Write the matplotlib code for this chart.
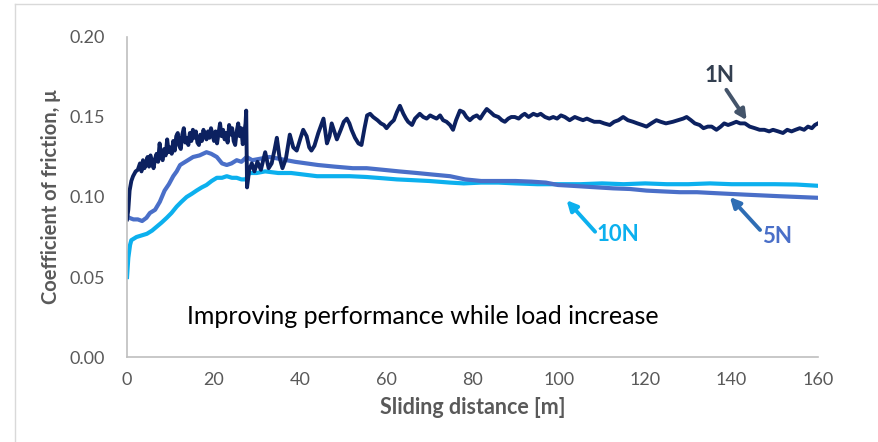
import matplotlib
matplotlib.use('Agg')
import matplotlib.pyplot as plt
from matplotlib.lines import Line2D

plt.rcParams['font.family'] = ['Lato', 'DejaVu Sans']

# --- data (sliding distance [m], friction coefficient) ---
dist_1n = [0, 0.3, 0.6, 1.0, 1.4, 2.0, 2.5,
           3.0, 3.35, 3.7, 4.05, 4.4, 4.75, 5.1, 5.45, 5.8, 6.15,
           6.5, 6.85, 7.2, 7.55, 7.9, 8.25, 8.6, 8.95, 9.3, 9.65,
           10.0, 10.35, 10.7, 11.05, 11.4, 11.75, 12.1, 12.45, 12.8, 13.15,
           13.5, 13.85, 14.2, 14.55, 14.9, 15.25, 15.6, 15.95, 16.3, 16.65,
           17.0, 17.35, 17.7, 18.05, 18.4, 18.75, 19.1, 19.45, 19.8, 20.15,
           20.5, 20.85, 21.2, 21.55, 21.9, 22.25, 22.6, 22.95, 23.3, 23.65,
           24.0, 24.35, 24.7, 25.05, 25.4, 25.75, 26.1, 26.45, 26.8, 27.15,
           27.45, 27.6, 27.8, 28.3, 28.9,
           29.5, 30.2, 31.0, 32.0, 32.8, 33.5, 34.2, 34.7, 35.3, 36.0,
           36.8, 37.7, 38.5, 39.3, 40.2, 40.8, 41.6, 42.2, 42.7, 43.4,
           44.3, 45.5, 46.3, 46.9, 47.4, 48.0, 48.6, 49.5, 50.2, 50.9,
           51.5, 52.0, 52.8, 53.6, 54.3, 55.0, 55.6, 56.3, 57.0, 58.0,
           58.8, 59.5, 60.1, 61.0, 61.8, 62.5, 63.2, 64.0, 64.6, 65.1,
           66.0, 66.7, 67.8, 68.6, 69.4, 70.2, 70.9, 71.7, 72.5, 73.2,
           74.0, 74.8, 75.5, 76.2, 77.1, 77.9, 78.6, 79.4, 80.2, 81.0,
           81.8, 82.5, 83.3, 84.2, 85.0, 86.0, 86.8, 87.5, 88.3, 89.0,
           89.8, 90.7, 91.5, 92.1, 93.0, 94.1, 95.0, 95.8, 96.8, 97.8,
           98.7, 99.6, 100.5, 101.4, 102.5, 103.7, 104.6, 105.6, 106.5, 107.3,
           108.2, 109.5, 110.5, 111.8, 112.8, 113.8, 114.9, 116.0, 117.2, 118.2,
           119.3, 120.3, 121.4, 122.6, 123.6, 124.8, 126.4, 127.6, 128.8, 129.6,
           130.6, 131.5, 132.6, 133.5, 134.5, 135.4, 136.5, 137.5, 138.3, 139.2,
           140.2, 141.1, 142.0, 143.1, 144.2, 145.4, 146.5, 147.6, 148.7, 149.6,
           150.8, 151.9, 152.9, 153.9, 154.8, 155.8, 156.8, 157.7, 158.6, 159.3,
           160.0]
mu_1n = [0.086, 0.092, 0.104, 0.110, 0.113, 0.116, 0.117,
         0.121, 0.116, 0.123, 0.118, 0.121, 0.125, 0.119, 0.126, 0.122, 0.118,
         0.124, 0.127, 0.122, 0.1335, 0.125, 0.123, 0.130, 0.126, 0.136, 0.128,
         0.131, 0.127, 0.135, 0.129, 0.138, 0.140, 0.132, 0.130, 0.139, 0.143,
         0.134, 0.137, 0.1325, 0.140, 0.135, 0.142, 0.137, 0.141, 0.134, 0.1325,
         0.139, 0.135, 0.142, 0.138, 0.136, 0.141, 0.137, 0.143, 0.139, 0.135,
         0.141, 0.1335, 0.140, 0.146, 0.138, 0.142, 0.136, 0.140, 0.134, 0.145,
         0.139, 0.143, 0.135, 0.1325, 0.141, 0.146, 0.138, 0.143, 0.133, 0.140,
         0.146, 0.154, 0.106, 0.117, 0.121,
         0.116, 0.122, 0.117, 0.128, 0.118, 0.121, 0.130, 0.137, 0.125, 0.118,
         0.124, 0.139, 0.131, 0.129, 0.137, 0.142, 0.138, 0.131, 0.129, 0.132,
         0.140, 0.149, 0.1335, 0.138, 0.146, 0.141, 0.136, 0.142, 0.147, 0.149,
         0.146, 0.142, 0.137, 0.1335, 0.1325, 0.143, 0.151, 0.152, 0.150, 0.148,
         0.146, 0.145, 0.143, 0.146, 0.148, 0.153, 0.157, 0.152, 0.149, 0.147,
         0.145, 0.149, 0.152, 0.150, 0.149, 0.151, 0.150, 0.149, 0.151, 0.148,
         0.147, 0.145, 0.142, 0.148, 0.154, 0.153, 0.150, 0.148, 0.150, 0.151,
         0.149, 0.152, 0.155, 0.153, 0.151, 0.150, 0.148, 0.147, 0.149, 0.150,
         0.150, 0.149, 0.151, 0.152, 0.150, 0.152, 0.151, 0.152, 0.150, 0.149,
         0.150, 0.149, 0.151, 0.150, 0.148, 0.150, 0.149, 0.148, 0.149, 0.148,
         0.147, 0.147, 0.146, 0.145, 0.147, 0.148, 0.150, 0.148, 0.147, 0.146,
         0.145, 0.144, 0.146, 0.148, 0.147, 0.146, 0.147, 0.148, 0.149, 0.150,
         0.148, 0.146, 0.145, 0.143, 0.144, 0.144, 0.142, 0.144, 0.146, 0.145,
         0.146, 0.147, 0.146, 0.146, 0.144, 0.143, 0.142, 0.142, 0.141, 0.142,
         0.141, 0.140, 0.142, 0.141, 0.142, 0.143, 0.142, 0.144, 0.143, 0.145,
         0.146]

dist_5n = [0, 0.5, 1.5, 2.5, 3.5, 4.5, 5.3, 6.5, 7.6, 8.7,
           9.7, 10.7, 11.5, 12.3, 13.5, 15.3, 16.8, 18.4, 19.5, 20.8,
           22.0, 23.1, 24.2, 25.4, 26.5, 27.7, 29.0, 31.0, 33.0, 35.0,
           38.9, 44.2, 48.0, 52.3, 55.5, 59.3, 63.0, 67.1, 70.9, 74.8,
           78.3, 82.0, 86.0, 90.0, 93.7, 97.0, 99.8, 103.0, 106.0, 109.0,
           112.6, 116.5, 120.3, 124.0, 128.0, 132.0, 135.5, 139.2, 143.0, 147.0,
           151.0, 155.5, 160.0]
mu_5n = [0.088, 0.087, 0.086, 0.086, 0.085, 0.087, 0.090, 0.092, 0.097, 0.104,
         0.108, 0.113, 0.116, 0.120, 0.122, 0.125, 0.126, 0.128, 0.127, 0.125,
         0.121, 0.120, 0.121, 0.123, 0.122, 0.125, 0.123, 0.124, 0.125, 0.124,
         0.122, 0.120, 0.119, 0.118, 0.118, 0.117, 0.116, 0.115, 0.114, 0.113,
         0.111, 0.110, 0.110, 0.110, 0.1096, 0.109, 0.1075, 0.107, 0.1065, 0.106,
         0.1054, 0.105, 0.104, 0.1035, 0.103, 0.103, 0.1025, 0.102, 0.1015, 0.101,
         0.1005, 0.100, 0.0995]

dist_10n = [0, 0.3, 0.7, 1.0, 2.2, 3.4, 4.6, 5.8, 6.9, 8.0,
            9.2, 10.3, 11.5, 12.6, 13.8, 15.0, 16.1, 17.3, 18.4, 19.6,
            20.8, 22.0, 23.1, 24.3, 25.4, 26.5, 27.5, 28.3, 30.0, 32.0,
            35.0, 38.0, 41.0, 44.0, 47.8, 51.6, 55.5, 59.3, 62.5, 65.6,
            70.0, 74.8, 78.0, 82.0, 86.0, 90.0, 95.0, 100.0, 105.0, 110.0,
            115.0, 120.0, 125.0, 130.0, 135.0, 140.0, 145.0, 150.0, 155.0, 160.0]
mu_10n = [0.050, 0.062, 0.070, 0.073, 0.075, 0.076, 0.077, 0.079, 0.0815, 0.084,
          0.087, 0.090, 0.094, 0.097, 0.100, 0.102, 0.104, 0.106, 0.1075, 0.110,
          0.112, 0.112, 0.113, 0.112, 0.112, 0.111, 0.111, 0.115, 0.115, 0.116,
          0.115, 0.115, 0.114, 0.113, 0.113, 0.113, 0.1125, 0.1117, 0.111, 0.1106,
          0.110, 0.109, 0.1085, 0.109, 0.109, 0.1085, 0.108, 0.108, 0.108, 0.1085,
          0.108, 0.1085, 0.108, 0.108, 0.1085, 0.108, 0.108, 0.108, 0.1078, 0.107]

assert len(dist_1n) == len(mu_1n)
assert len(dist_5n) == len(mu_5n)
assert len(dist_10n) == len(mu_10n)

x_ticks = [0, 20, 40, 60, 80, 100, 120, 140, 160]
y_ticks = [0.00, 0.05, 0.10, 0.15, 0.20]

C_1N = '#0C2160'
C_5N = '#4A6FC8'
C_10N = '#0CB0EE'
GREY = '#595959'

fig = plt.figure(figsize=(8.79, 4.42), dpi=100)
ax = fig.add_axes([0.1445, 0.1923, 0.786, 0.724])

# order: 10N under, then 5N, 1N on top
ax.plot(dist_10n, mu_10n, color=C_10N, lw=3.0, solid_joinstyle='round')
ax.plot(dist_5n, mu_5n, color=C_5N, lw=3.0, solid_joinstyle='round')
ax.plot(dist_1n, mu_1n, color=C_1N, lw=2.8, solid_joinstyle='round')

ax.set_xlim(0, 160)
ax.set_ylim(0, 0.20)
ax.set_xticks(x_ticks)
ax.set_yticks(y_ticks)
ax.set_yticklabels([f'{v:.2f}' for v in y_ticks])
ax.tick_params(axis='both', length=0, labelsize=13, labelcolor=GREY)
ax.tick_params(axis='x', pad=11)
ax.tick_params(axis='y', pad=16)

for s in ['top', 'right']:
    ax.spines[s].set_visible(False)
for s in ['left', 'bottom']:
    ax.spines[s].set_color('#BFBFBF')
    ax.spines[s].set_linewidth(1.2)

ax.set_xlabel('Sliding distance [m]', fontsize=15.5, fontweight='bold',
              color=GREY, labelpad=6)
ax.set_ylabel('Coefficient of friction, \u03bc', fontsize=14.5,
              fontweight='bold', color=GREY, labelpad=6)

ax.text(13.9, 0.0256, 'Improving performance while load increase',
        fontsize=18, color='black', va='center', ha='left')

# series labels with arrows
arr = dict(arrowstyle='-|>', lw=2.8, mutation_scale=15, shrinkA=0, shrinkB=0)
ax.annotate('', xy=(143.5, 0.148), xytext=(138.8, 0.167),
            arrowprops=dict(arr, color='#44546A'))
ax.text(137.3, 0.176, '1N', fontsize=16, fontweight='bold', color='#333F50',
        ha='center', va='center')

ax.annotate('', xy=(101.8, 0.098), xytext=(108.4, 0.0783),
            arrowprops=dict(arr, color=C_10N))
ax.text(108.7, 0.0765, '10N', fontsize=16, fontweight='bold', color=C_10N,
        ha='left', va='center')

ax.annotate('', xy=(139.6, 0.100), xytext=(146.6, 0.0794),
            arrowprops=dict(arr, color='#2E6DB4'))
ax.text(147.0, 0.0755, '5N', fontsize=16, fontweight='bold', color=C_5N,
        ha='left', va='center')

# faint frame of the original chart area
fig.add_artist(Line2D([15 / 879, 15 / 879], [0, 1 - 4 / 442],
                      transform=fig.transFigure, color='#D9D9D9', lw=1))
fig.add_artist(Line2D([15 / 879, 1], [1 - 4 / 442, 1 - 4 / 442],
                      transform=fig.transFigure, color='#D9D9D9', lw=1))

fig.savefig('out.png', dpi=100)
